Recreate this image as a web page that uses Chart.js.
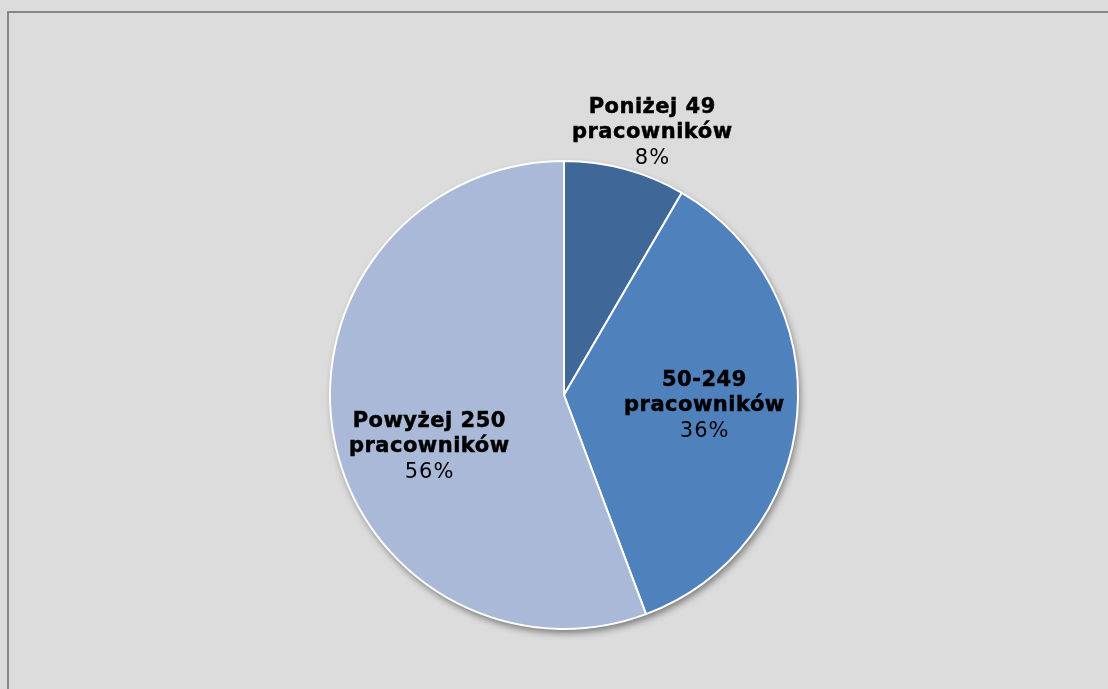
<!DOCTYPE html>
<html>
<head>
<meta charset="utf-8">
<script src="https://cdn.jsdelivr.net/npm/chart.js@4.4.0/dist/chart.umd.min.js"></script>
<style>
  html, body { margin: 0; padding: 0; background: #dcdcdc; }
  #wrap { position: relative; width: 1108px; height: 689px; overflow: hidden; }
  #frame { position: absolute; left: 7px; top: 11px; right: -10px; bottom: -10px;
           border-left: 2px solid #888; border-top: 2px solid #888; }
  canvas { position: absolute; left: 0; top: 0; }
</style>
</head>
<body>
<div id="wrap">
  <div id="frame"></div>
  <canvas id="myChart" width="1108" height="689"></canvas>
</div>
<script>
let labels = ["Poniżej 49 pracowników", "50-249 pracowników", "Powyżej 250 pracowników"];
let labelLines = [["Poniżej 49", "pracowników"], ["50-249", "pracowników"], ["Powyżej 250", "pracowników"]];
let shares = [8.4, 35.9, 55.7];
let shareLabels = ["8%", "36%", "56%"];
let sliceColors = ["#3f6899", "#4f81bd", "#aab9d7"];
// label placement: distance from centre (part of radius) and turn off the slice middle (degrees)
let labelRadius = [1.19, 0.6, 0.615];
let labelTurn = [3.3, -1.3, -10];

// soft shadow under the pie
const pieShadow = {
  id: 'pieShadow',
  beforeDatasetsDraw(chart) {
    const arc = chart.getDatasetMeta(0).data[0];
    if (!arc) return;
    const ctx = chart.ctx;
    ctx.save();
    ctx.shadowColor = 'rgba(0,0,0,0.45)';
    ctx.shadowBlur = 7;
    ctx.shadowOffsetX = 2;
    ctx.shadowOffsetY = 4;
    ctx.fillStyle = '#aab9d7';
    ctx.beginPath();
    ctx.arc(arc.x, arc.y, arc.outerRadius, 0, Math.PI * 2);
    ctx.fill();
    ctx.restore();
  }
};

// labels with name and percentage
const sliceLabels = {
  id: 'sliceLabels',
  afterDatasetsDraw(chart) {
    const ctx = chart.ctx;
    const meta = chart.getDatasetMeta(0);
    ctx.save();
    ctx.textAlign = 'center';
    ctx.textBaseline = 'alphabetic';
    ctx.fillStyle = '#000';
    ctx.strokeStyle = '#000';
    meta.data.forEach((arc, i) => {
      const mid = (arc.startAngle + arc.endAngle) / 2 + labelTurn[i] * Math.PI / 180;
      const r = arc.outerRadius * labelRadius[i];
      const x = arc.x + Math.cos(mid) * r;
      const y = arc.y + Math.sin(mid) * r;
      const lines = labelLines[i].concat([shareLabels[i]]);
      const lh = 25.5;
      lines.forEach((t, j) => {
        const bold = j < 2;
        const sp = bold ? 0.5 : 1;
        ctx.font = (bold ? 'bold ' : '') + '21px "DejaVu Sans", Verdana, sans-serif';
        ctx.letterSpacing = sp + 'px';
        const ty = y + 7.6 + (j - 1) * lh;
        ctx.fillText(t, x + sp / 2, ty);
        if (bold) {
          ctx.lineWidth = 0.5;
          ctx.strokeText(t, x + sp / 2, ty);
        }
      });
    });
    ctx.restore();
  }
};

let ctx = document.getElementById('myChart').getContext('2d');

const myChart = new Chart(ctx, {
  type: 'pie',
  data: {
    labels: labels,
    datasets: [{
      data: shares,
      backgroundColor: sliceColors,
      borderColor: '#ffffff',
      borderWidth: 2
    }]
  },
  options: {
    responsive: false,
    animation: false,
    layout: { padding: { top: 160, bottom: 59, left: 20, right: 0 } },
    plugins: {
      legend: { display: false },
      tooltip: { enabled: false }
    }
  },
  plugins: [pieShadow, sliceLabels]
});
</script>
</body>
</html>
